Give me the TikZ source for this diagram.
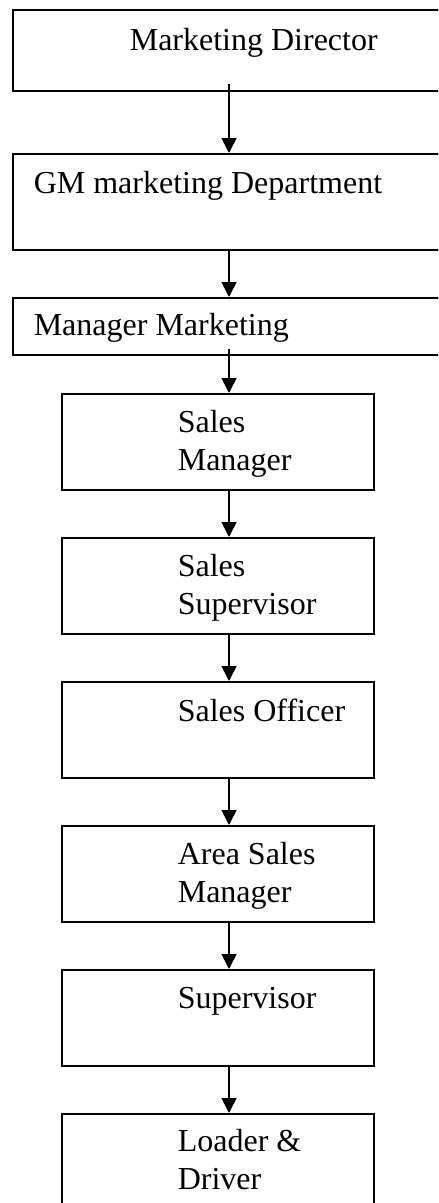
\documentclass[tikz,border=0pt]{standalone}
\usepackage{fontspec}
\setmainfont{Liberation Serif}
\usetikzlibrary{arrows.meta}

\tikzset{
  post/.style={draw, line width=0.6pt, inner sep=0pt, anchor=north west,
    minimum width=117pt, minimum height=36pt},
  widepost/.style={post, minimum width=162.4pt},
  title/.style={anchor=base west, inner sep=0pt, align=left,
    font=\fontsize{12}{13.9}\selectfont},
}

\begin{document}
\begin{tikzpicture}[x=0.375pt, y=-0.375pt, >={Triangle[width=5.6pt,length=5.6pt]}, line width=0.6pt]
  \clip (0,0) rectangle (438,1203);
  \fill[white] (0,0) rectangle (438,1203);
  \coordinate (spine) at (229,0);

  % the three top posts run off the right edge
  \node[widepost, minimum height=30.4pt] (mdir) at (12,9) {};
  \node[widepost] (gm) at (12,153) {};
  \node[widepost, minimum height=21.4pt] (mm) at (12,297) {};
  % narrow posts below
  \node[post] (sm) at (61,393) {};
  \node[post] (ss) at (61,537) {};
  \node[post] (so) at (61,681) {};
  \node[post] (asm) at (61,825) {};
  \node[post] (sup) at (61,969) {};
  \node[post] (ld) at (61,1113) {};

  % two-line titles sit on the baseline of their last line
  \node[title] (t-mdir) at (129,50) {Marketing Director};
  \node[title] (t-gm) at (33,193) {GM marketing Department};
  \node[title] (t-mm) at (33,335) {Manager Marketing};
  \node[title] (t-sm) at (177,470) {Sales\\Manager};
  \node[title] (t-ss) at (177,614) {Sales\\Supervisor};
  \node[title] (t-so) at (177,721) {Sales Officer};
  \node[title] (t-asm) at (177,902) {Area Sales\\Manager};
  \node[title] (t-sup) at (177,1008) {Supervisor};
  \node[title] (t-ld) at (177,1189) {Loader \&\\Driver};

  % reporting line, some arrows start a little inside the upper post
  \foreach \a/\b/\s in {mdir/gm/8, gm/mm/0, mm/sm/7, sm/ss/0, ss/so/0,
                        so/asm/0, asm/sup/0, sup/ld/0}
    \draw[->] (\a.south -| spine) ++(0,-\s) -- (\b.north -| spine);
\end{tikzpicture}
\end{document}
